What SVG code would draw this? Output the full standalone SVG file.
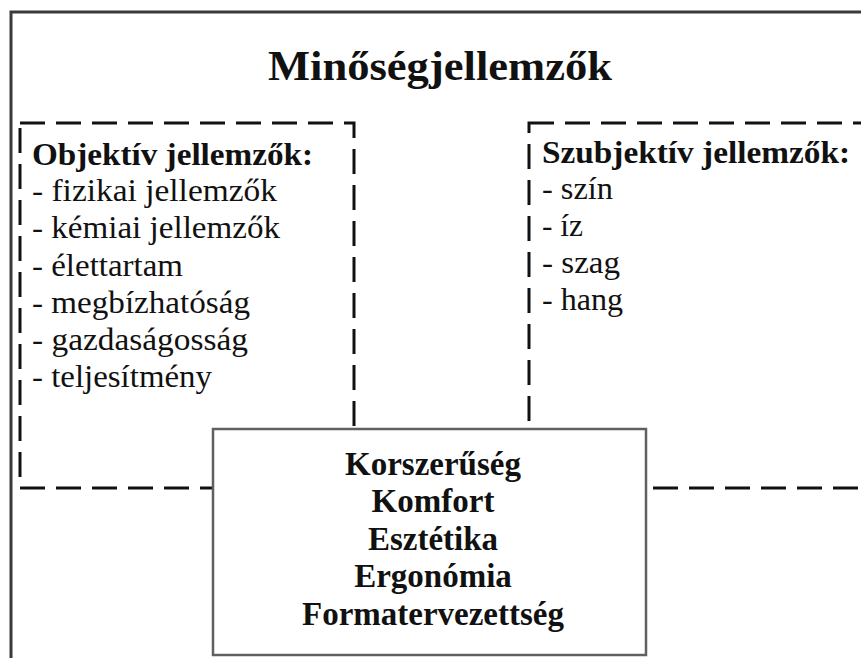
<svg xmlns="http://www.w3.org/2000/svg" width="861" height="658" viewBox="0 0 861 658">
<style>
.frame{fill:none;stroke:#3a3a3a;stroke-width:3}
.dash{fill:none;stroke:#111;stroke-width:3;stroke-dasharray:25 11}
.box{fill:#fff;stroke:#606060;stroke-width:2.5}
.t{font-family:"Liberation Serif","Times New Roman",serif;fill:#111}
.title{font-size:43px;font-weight:bold}
.hd{font-size:32px;font-weight:bold}
.it{font-size:32px}
.ct{font-size:33px;font-weight:bold;text-anchor:middle}
</style>
<rect width="861" height="658" fill="#fff"/>
<g id="frame">
<path class="frame" d="M11,658 V12 H861"/>
<text class="t title" x="268" y="80" textLength="344" lengthAdjust="spacingAndGlyphs">Minőségjellemzők</text>
</g>
<g id="objektiv">
<rect class="dash" x="20" y="123" width="334" height="365"/>
<text class="t hd" x="32" y="165" textLength="281" lengthAdjust="spacingAndGlyphs">Objektív jellemzők:</text>
<text class="t it" x="32" y="201" textLength="245" lengthAdjust="spacingAndGlyphs">- fizikai jellemzők</text>
<text class="t it" x="32" y="238" textLength="248" lengthAdjust="spacingAndGlyphs">- kémiai jellemzők</text>
<text class="t it" x="32" y="276" textLength="151" lengthAdjust="spacingAndGlyphs">- élettartam</text>
<text class="t it" x="32" y="313" textLength="218" lengthAdjust="spacingAndGlyphs">- megbízhatóság</text>
<text class="t it" x="32" y="350" textLength="216" lengthAdjust="spacingAndGlyphs">- gazdaságosság</text>
<text class="t it" x="32" y="387" textLength="180" lengthAdjust="spacingAndGlyphs">- teljesítmény</text>
</g>
<g id="szubjektiv">
<rect class="dash" x="529" y="123" width="360" height="365"/>
<text class="t hd" x="542" y="163" textLength="308" lengthAdjust="spacingAndGlyphs">Szubjektív jellemzők:</text>
<text class="t it" x="542" y="199" textLength="71" lengthAdjust="spacingAndGlyphs">- szín</text>
<text class="t it" x="542" y="236" textLength="41" lengthAdjust="spacingAndGlyphs">- íz</text>
<text class="t it" x="542" y="273" textLength="78" lengthAdjust="spacingAndGlyphs">- szag</text>
<text class="t it" x="542" y="310" textLength="81" lengthAdjust="spacingAndGlyphs">- hang</text>
</g>
<g id="center">
<rect class="box" x="213" y="429" width="433" height="226"/>
<text class="t ct" x="433" y="475">Korszerűség</text>
<text class="t ct" x="433" y="512">Komfort</text>
<text class="t ct" x="433" y="550">Esztétika</text>
<text class="t ct" x="433" y="587">Ergonómia</text>
<text class="t ct" x="433" y="625">Formatervezettség</text>
</g>
</svg>
